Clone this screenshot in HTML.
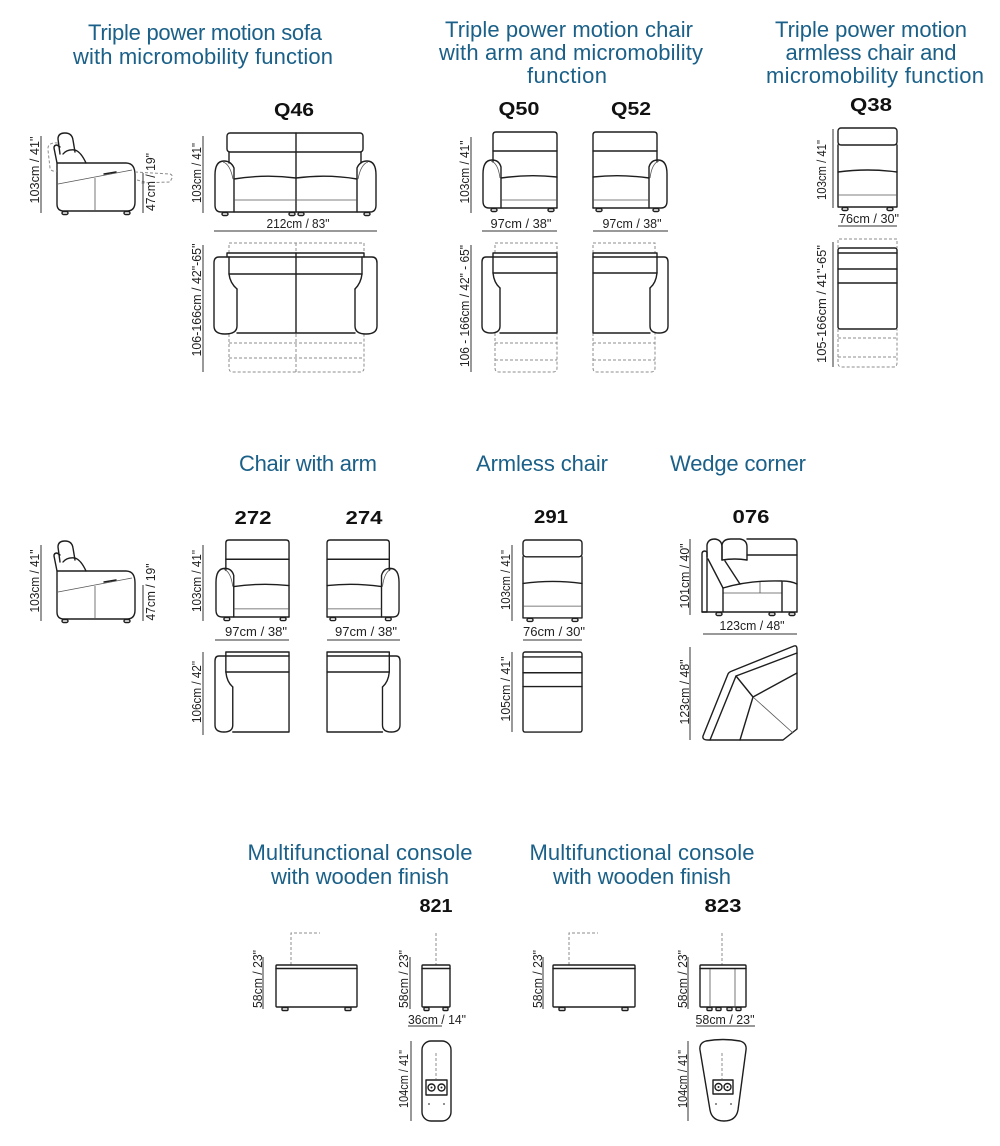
<!DOCTYPE html>
<html><head><meta charset="utf-8">
<style>
html,body{margin:0;padding:0;background:#fff;}
svg{display:block;}
.s{fill:none;stroke:#1e1e1e;stroke-width:1.4;stroke-linejoin:round;stroke-linecap:round;}
.th{fill:none;stroke:#555;stroke-width:0.8;}
.d{fill:none;stroke:#8c8c8c;stroke-width:1;stroke-dasharray:3 2;}
.dim{fill:none;stroke:#333;stroke-width:1;}
.tt{font-family:"Liberation Sans",sans-serif;font-size:22px;fill:#1b6088;text-anchor:middle;}
.lb{font-family:"Liberation Sans",sans-serif;font-weight:bold;font-size:18px;fill:#111;text-anchor:middle;}
.dt{font-family:"Liberation Sans",sans-serif;font-size:13px;fill:#222;text-anchor:middle;}
</style></head>
<body>
<svg width="1000" height="1146" viewBox="0 0 1000 1146" xmlns="http://www.w3.org/2000/svg">
<defs>
 <g id="armFront">
  <path class="s" d="M11,19 V3 Q11,0 14,0 H72 Q75,0 75,3 V76"/>
  <path class="s" d="M11,19 H75 M11,19 V30"/>
  <path class="s" d="M19,76 H7 Q1,76 1,69 V42 Q1,28 10,28 Q17,28 19,35 Z"/>
  <path class="th" d="M9,29 Q16,31 18,46"/>
  <path class="s" d="M19,46 Q47,42 75,45"/>
  <path class="th" d="M19,68 H75"/>
  <path class="s" d="M19,76 H75"/>
  <rect class="s" x="9" y="76.5" width="6" height="3" rx="1.5"/>
  <rect class="s" x="66" y="76.5" width="6" height="3" rx="1.5"/>
 </g>
 <g id="armTop">
  <path class="s" d="M11,0 H75 V4 H11 Z"/>
  <path class="s" d="M11,4 V20 Q12,30 18,35"/>
  <path class="s" d="M11,20 H75"/>
  <path class="s" d="M11,4 H4 Q0,4 0,9 V73 Q0,80 9,80 Q18,80 18,73 V35"/>
  <path class="s" d="M18,80 H75 V4"/>
 </g>
 <g id="armlessFront">
  <rect class="s" x="0" y="0" width="59" height="17" rx="3"/>
  <path class="s" d="M0,17 V79 H59 V17"/>
  <path class="s" d="M0,44 Q30,40 59,44"/>
  <path class="th" d="M0,67 H59"/>
  <rect class="s" x="4" y="79.5" width="6" height="3" rx="1.5"/>
  <rect class="s" x="49" y="79.5" width="6" height="3" rx="1.5"/>
 </g>
 <g id="armlessTop">
  <rect class="s" x="0" y="0" width="59" height="81" rx="2"/>
  <path class="s" d="M0,5 H59 M0,21 H59 M0,35 H59"/>
 </g>
 <g id="side">
  <path class="s" d="M57,163 L54,148 Q54,145 57,145 L60,147"/>
  <path class="s" d="M60,154 L58,139 Q58,133 65,133 Q72,133 73,140 L75,152"/>
  <path class="s" d="M63,154 Q67,149 75,150 Q81,152 86,163"/>
  <path class="s" d="M57,163 H126 Q135,163 135,175 V202 Q135,211 127,211 H64 Q57,211 57,204 Z"/>
  <path class="th" d="M58,184 L132,170 M95,178 V211"/>
  <path class="s" d="M104,174 L116,172" stroke-width="2"/>
  <rect class="s" x="62" y="211.5" width="6" height="3" rx="1.5"/>
  <rect class="s" x="124" y="211.5" width="6" height="3" rx="1.5"/>
 </g>
</defs>

<!-- ===== TITLES ===== -->
<text class="tt" x="205" y="40" textLength="234" lengthAdjust="spacing">Triple power motion sofa</text>
<text class="tt" x="203" y="64" textLength="260" lengthAdjust="spacing">with micromobility function</text>

<text class="tt" x="569" y="37" textLength="248" lengthAdjust="spacing">Triple power motion chair</text>
<text class="tt" x="571" y="60" textLength="264" lengthAdjust="spacing">with arm and micromobility</text>
<text class="tt" x="567" y="83" textLength="80" lengthAdjust="spacing">function</text>

<text class="tt" x="871" y="37" textLength="192" lengthAdjust="spacing">Triple power motion</text>
<text class="tt" x="871" y="60" textLength="171" lengthAdjust="spacing">armless chair and</text>
<text class="tt" x="875" y="83" textLength="218" lengthAdjust="spacing">micromobility function</text>

<text class="tt" x="308" y="471" textLength="138" lengthAdjust="spacing">Chair with arm</text>
<text class="tt" x="542" y="471" textLength="132" lengthAdjust="spacing">Armless chair</text>
<text class="tt" x="738" y="471" textLength="136" lengthAdjust="spacing">Wedge corner</text>

<text class="tt" x="360" y="860" textLength="225" lengthAdjust="spacing">Multifunctional console</text>
<text class="tt" x="360" y="884" textLength="178" lengthAdjust="spacing">with wooden finish</text>
<text class="tt" x="642" y="860" textLength="225" lengthAdjust="spacing">Multifunctional console</text>
<text class="tt" x="642" y="884" textLength="178" lengthAdjust="spacing">with wooden finish</text>

<!-- ===== CODE LABELS ===== -->
<text class="lb" x="294" y="116" textLength="40" lengthAdjust="spacingAndGlyphs">Q46</text>
<text class="lb" x="519" y="115" textLength="41" lengthAdjust="spacingAndGlyphs">Q50</text>
<text class="lb" x="631" y="115" textLength="40" lengthAdjust="spacingAndGlyphs">Q52</text>
<text class="lb" x="871" y="111" textLength="42" lengthAdjust="spacingAndGlyphs">Q38</text>
<text class="lb" x="253" y="524" textLength="37" lengthAdjust="spacingAndGlyphs">272</text>
<text class="lb" x="364" y="524" textLength="37" lengthAdjust="spacingAndGlyphs">274</text>
<text class="lb" x="551" y="523" textLength="34" lengthAdjust="spacingAndGlyphs">291</text>
<text class="lb" x="751" y="523" textLength="37" lengthAdjust="spacingAndGlyphs">076</text>
<text class="lb" x="436" y="912" textLength="33" lengthAdjust="spacingAndGlyphs">821</text>
<text class="lb" x="723" y="912" textLength="37" lengthAdjust="spacingAndGlyphs">823</text>

<!-- ===== ROW 1 ===== -->
<use href="#side"/>
<path class="d" d="M58,143 Q47,142 48,150 L50,168 Q51,172 57,171"/>
<path class="d" d="M135,172 L170,174 Q173,175 172,178 L170,182 L140,183 M137,180 L145,182"/>
<path class="dim" d="M41,136 V213 M143,173 V213"/>
<text class="dt" transform="translate(39,170) rotate(-90)" textLength="67" lengthAdjust="spacingAndGlyphs">103cm / 41"</text>
<text class="dt" transform="translate(155,182) rotate(-90)" textLength="58" lengthAdjust="spacingAndGlyphs">47cm / 19"</text>

<!-- Q46 front -->
<g transform="translate(214,133)">
 <rect class="s" x="13" y="0" width="136" height="19" rx="3"/>
 <path class="s" d="M15,19 V30 M147,19 V30"/>
 <path class="s" d="M82,0 V79"/>
 <path class="s" d="M20,79 H7 Q1,79 1,72 V42 Q1,28 10,28 Q17,28 20,35 Z"/>
 <path class="s" d="M143,79 H156 Q162,79 162,72 V42 Q162,28 153,28 Q146,28 143,35 Z"/>
 <path class="th" d="M9,29 Q16,31 19,46 M154,29 Q147,31 144,46"/>
 <path class="s" d="M20,46 Q51,41 82,45 Q113,41 143,46"/>
 <path class="th" d="M20,67 H143"/>
 <path class="s" d="M20,79 H143"/>
 <rect class="s" x="8" y="79.5" width="6" height="3" rx="1.5"/>
 <rect class="s" x="75" y="79.5" width="6" height="3" rx="1.5"/>
 <rect class="s" x="84" y="79.5" width="6" height="3" rx="1.5"/>
 <rect class="s" x="150" y="79.5" width="6" height="3" rx="1.5"/>
</g>
<path class="dim" d="M203,136 V213 M214,231 H377 M203,245 V372"/>
<text class="dt" transform="translate(201,173) rotate(-90)" textLength="60" lengthAdjust="spacingAndGlyphs">103cm / 41"</text>
<text class="dt" x="298" y="228" textLength="63" lengthAdjust="spacingAndGlyphs">212cm / 83"</text>
<text class="dt" transform="translate(201,300) rotate(-90)" textLength="113" lengthAdjust="spacingAndGlyphs">106-166cm / 42"-65"</text>
<path class="d" d="M229,253 V243 H364 V253 M229,334 V368 Q229,372 233,372 H360 Q364,372 364,368 V334 M229,343 H364 M229,358 H364 M296,243 V252 M296,334 V372"/>
<g transform="translate(214,253)">
 <path class="s" d="M13,0 H150 V4 H13 Z"/>
 <path class="s" d="M15,4 V21 Q16,30 23,36 M148,4 V21 Q147,30 141,36"/>
 <path class="s" d="M15,21 H148"/>
 <path class="s" d="M13,4 H5 Q0,4 0,10 V73 Q0,81 11,81 Q23,81 23,73 V36"/>
 <path class="s" d="M150,4 H158 Q163,4 163,10 V73 Q163,81 152,81 Q141,81 141,73 V36"/>
 <path class="s" d="M23,80 H141 M82,0 V80"/>
</g>

<!-- Q50 -->
<use href="#armFront" transform="translate(482,132)"/>
<path class="dim" d="M471,137 V213 M482,231 H557 M471,245 V372"/>
<text class="dt" transform="translate(469,172) rotate(-90)" textLength="63" lengthAdjust="spacingAndGlyphs">103cm / 41"</text>
<text class="dt" x="521" y="228" textLength="61" lengthAdjust="spacingAndGlyphs">97cm / 38"</text>
<text class="dt" transform="translate(469,306) rotate(-90)" textLength="122" lengthAdjust="spacingAndGlyphs">106 - 166cm / 42" - 65"</text>
<path class="d" d="M495,253 V243 H557 V253 M495,333 V368 Q495,372 499,372 H553 Q557,372 557,368 V333 M495,343 H557 M495,360 H557"/>
<use href="#armTop" transform="translate(482,253)"/>

<!-- Q52 -->
<use href="#armFront" transform="translate(668,132) scale(-1,1)"/>
<path class="dim" d="M593,231 H668"/>
<text class="dt" x="632" y="228" textLength="59" lengthAdjust="spacingAndGlyphs">97cm / 38"</text>
<path class="d" d="M593,253 V243 H655 V253 M593,333 V368 Q593,372 597,372 H651 Q655,372 655,368 V333 M593,343 H655 M593,360 H655"/>
<use href="#armTop" transform="translate(668,253) scale(-1,1)"/>

<!-- Q38 -->
<use href="#armlessFront" transform="translate(838,128)"/>
<path class="dim" d="M833,129 V208 M838,226 H897 M833,242 V367"/>
<text class="dt" transform="translate(826,170) rotate(-90)" textLength="60" lengthAdjust="spacingAndGlyphs">103cm / 41"</text>
<text class="dt" x="869" y="223" textLength="60" lengthAdjust="spacingAndGlyphs">76cm / 30"</text>
<text class="dt" transform="translate(826,304) rotate(-90)" textLength="118" lengthAdjust="spacingAndGlyphs">105-166cm / 41"-65"</text>
<path class="d" d="M838,248 V239 H897 V248 M838,329 V363 Q838,367 842,367 H893 Q897,367 897,363 V329 M838,338 H897 M838,357 H897"/>
<use href="#armlessTop" transform="translate(838,248)"/>

<!-- ===== ROW 2 ===== -->
<use href="#side" transform="translate(0,408)"/>
<path class="dim" d="M41,545 V621 M143,585 V621"/>
<text class="dt" transform="translate(39,581) rotate(-90)" textLength="63" lengthAdjust="spacingAndGlyphs">103cm / 41"</text>
<text class="dt" transform="translate(155,592) rotate(-90)" textLength="57" lengthAdjust="spacingAndGlyphs">47cm / 19"</text>

<!-- 272 -->
<use href="#armFront" transform="translate(215,540) scale(0.987,1.013)"/>
<path class="dim" d="M203,545 V621 M215,640 H289 M203,652 V735"/>
<text class="dt" transform="translate(201,581) rotate(-90)" textLength="62" lengthAdjust="spacingAndGlyphs">103cm / 41"</text>
<text class="dt" x="256" y="636" textLength="62" lengthAdjust="spacingAndGlyphs">97cm / 38"</text>
<text class="dt" transform="translate(201,692) rotate(-90)" textLength="62" lengthAdjust="spacingAndGlyphs">106cm / 42"</text>
<use href="#armTop" transform="translate(215,652) scale(0.987,1)"/>

<!-- 274 -->
<use href="#armFront" transform="translate(400,540) scale(-0.973,1.013)"/>
<path class="dim" d="M327,640 H400"/>
<text class="dt" x="366" y="636" textLength="62" lengthAdjust="spacingAndGlyphs">97cm / 38"</text>
<use href="#armTop" transform="translate(400,652) scale(-0.973,1)"/>

<!-- 291 -->
<use href="#armlessFront" transform="translate(523,540) scale(1,0.987)"/>
<path class="dim" d="M512,545 V621 M523,640 H582 M512,652 V732"/>
<text class="dt" transform="translate(510,580) rotate(-90)" textLength="60" lengthAdjust="spacingAndGlyphs">103cm / 41"</text>
<text class="dt" x="554" y="636" textLength="62" lengthAdjust="spacingAndGlyphs">76cm / 30"</text>
<text class="dt" transform="translate(510,689) rotate(-90)" textLength="65" lengthAdjust="spacingAndGlyphs">105cm / 41"</text>
<use href="#armlessTop" transform="translate(523,652) scale(1,0.988)"/>

<!-- 076 front -->
<g>
 <path class="s" d="M702,554 Q702,551 705,551 L707,552 V612 H702 Z"/>
 <path class="s" d="M707,557 V545 Q708,539 715,539 Q722,540 722,547 V560"/>
 <path class="s" d="M722,560 V545 Q723,539 731,539 H740 Q747,540 747,547 V560"/>
 <path class="s" d="M747,539 H793 Q797,539 797,543 V555 H747"/>
 <path class="s" d="M722,560 Q735,558 747,560"/>
 <path class="s" d="M708,559 L723,588 M725,561 L740,584"/>
 <path class="s" d="M723,588 Q750,580 782,581 Q791,581 797,584"/>
 <path class="th" d="M723,593 H782 M760,582 V593"/>
 <path class="s" d="M723,588 V612 M782,582 V612 M797,555 V612"/>
 <path class="s" d="M702,612 H797"/>
 <rect class="s" x="716" y="612.5" width="6" height="3" rx="1.5"/>
 <rect class="s" x="769" y="612.5" width="6" height="3" rx="1.5"/>
 <rect class="s" x="789" y="612.5" width="6" height="3" rx="1.5"/>
</g>
<path class="dim" d="M690,539 V615 M703,634 H797 M690,647 V740"/>
<text class="dt" transform="translate(689,576) rotate(-90)" textLength="65" lengthAdjust="spacingAndGlyphs">101cm / 40"</text>
<text class="dt" x="752" y="630" textLength="65" lengthAdjust="spacingAndGlyphs">123cm / 48"</text>
<text class="dt" transform="translate(689,692) rotate(-90)" textLength="65" lengthAdjust="spacingAndGlyphs">123cm / 48"</text>
<g>
 <path class="s" d="M794,646 Q797,645 797,649 V729 L783,740 H708 Q702,740 703,736 L728,674 Q729,672 732,671 Z"/>
 <path class="s" d="M797,653 L736,676 L710,740"/>
 <path class="s" d="M797,673 L753,697 L740,740 M736,676 L753,697"/>
 <path class="th" d="M753,697 L793,733"/>
</g>

<!-- ===== ROW 3 ===== -->
<path class="d" d="M291,965 V933 H320"/>
<rect class="s" x="276" y="965" width="81" height="42" rx="1"/>
<path class="s" d="M276,968.5 H357"/>
<rect class="s" x="282" y="1007.5" width="6" height="3" rx="1"/>
<rect class="s" x="345" y="1007.5" width="6" height="3" rx="1"/>
<path class="dim" d="M263,957 V1009"/>
<text class="dt" transform="translate(262,979) rotate(-90)" textLength="58" lengthAdjust="spacingAndGlyphs">58cm / 23"</text>
<path class="d" d="M436,933 V965"/>
<rect class="s" x="422" y="965" width="28" height="42" rx="1"/>
<path class="s" d="M422,968.5 H450"/>
<rect class="s" x="424" y="1007.5" width="5" height="3" rx="1"/>
<rect class="s" x="443" y="1007.5" width="5" height="3" rx="1"/>
<path class="dim" d="M410,957 V1009 M408,1026 H442"/>
<text class="dt" transform="translate(408,979) rotate(-90)" textLength="58" lengthAdjust="spacingAndGlyphs">58cm / 23"</text>
<text class="dt" x="437" y="1024" textLength="58" lengthAdjust="spacingAndGlyphs">36cm / 14"</text>
<rect class="s" x="422" y="1041" width="29" height="80" rx="9"/>
<path class="d" d="M436,1053 V1079"/>
<rect class="s" x="426" y="1080" width="21" height="15" stroke-width="1"/>
<circle class="s" cx="431.5" cy="1087.5" r="3.5" stroke-width="1"/>
<circle class="s" cx="441.5" cy="1087.5" r="3.5" stroke-width="1"/>
<circle cx="431.5" cy="1087.5" r="1" fill="#222"/>
<circle cx="441.5" cy="1087.5" r="1" fill="#222"/>
<circle cx="429" cy="1104" r="0.9" fill="#444"/>
<circle cx="444" cy="1104" r="0.9" fill="#444"/>
<path class="dim" d="M411,1041 V1121"/>
<text class="dt" transform="translate(408,1079) rotate(-90)" textLength="58" lengthAdjust="spacingAndGlyphs">104cm / 41"</text>

<path class="d" d="M569,965 V933 H598"/>
<rect class="s" x="553" y="965" width="82" height="42" rx="1"/>
<path class="s" d="M553,968.5 H635"/>
<rect class="s" x="559" y="1007.5" width="6" height="3" rx="1"/>
<rect class="s" x="622" y="1007.5" width="6" height="3" rx="1"/>
<path class="dim" d="M543,957 V1009"/>
<text class="dt" transform="translate(542,979) rotate(-90)" textLength="58" lengthAdjust="spacingAndGlyphs">58cm / 23"</text>
<path class="d" d="M722,933 V965"/>
<rect class="s" x="700" y="965" width="46" height="42" rx="1"/>
<path class="s" d="M700,968.5 H746"/>
<path class="th" d="M710,969 V1007 M735,969 V1007"/>
<rect class="s" x="707" y="1007.5" width="5" height="3" rx="1"/>
<rect class="s" x="716" y="1007.5" width="5" height="3" rx="1"/>
<rect class="s" x="727" y="1007.5" width="5" height="3" rx="1"/>
<rect class="s" x="736" y="1007.5" width="5" height="3" rx="1"/>
<path class="dim" d="M688,957 V1009 M696,1026 H755"/>
<text class="dt" transform="translate(687,979) rotate(-90)" textLength="58" lengthAdjust="spacingAndGlyphs">58cm / 23"</text>
<text class="dt" x="725" y="1024" textLength="59" lengthAdjust="spacingAndGlyphs">58cm / 23"</text>
<path class="s" d="M706,1041 Q723,1038 740,1041 Q747,1043 746,1050 L738,1110 Q736,1121 724,1121 Q712,1121 710,1110 L700,1050 Q699,1043 706,1041 Z"/>
<path class="d" d="M722,1053 V1079"/>
<rect class="s" x="713" y="1080" width="20" height="14" stroke-width="1"/>
<circle class="s" cx="718.5" cy="1087" r="3.5" stroke-width="1"/>
<circle class="s" cx="727.5" cy="1087" r="3.5" stroke-width="1"/>
<circle cx="718.5" cy="1087" r="1" fill="#222"/>
<circle cx="727.5" cy="1087" r="1" fill="#222"/>
<circle cx="716" cy="1104" r="0.9" fill="#444"/>
<circle cx="731" cy="1104" r="0.9" fill="#444"/>
<path class="dim" d="M688,1041 V1121"/>
<text class="dt" transform="translate(687,1079) rotate(-90)" textLength="58" lengthAdjust="spacingAndGlyphs">104cm / 41"</text>
</svg>
</body></html>
